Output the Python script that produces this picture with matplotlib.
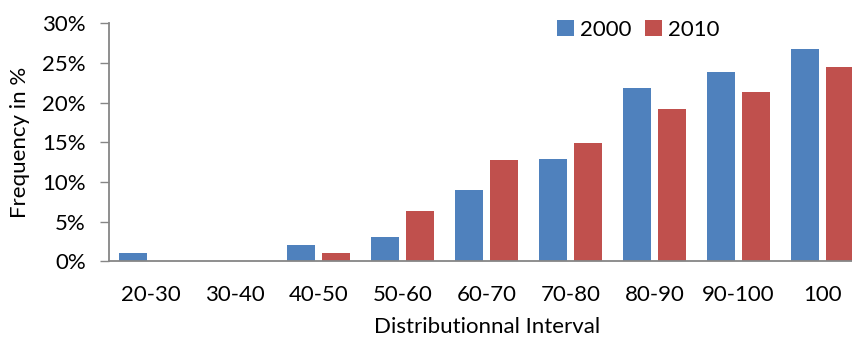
import matplotlib
matplotlib.use("Agg")
import matplotlib.pyplot as plt
import numpy as np

categories = ["20-30", "30-40", "40-50", "50-60", "60-70", "70-80", "80-90", "90-100", "100"]
series_2000 = [1.0, 0.0, 2.0, 3.0, 9.0, 12.9, 21.8, 23.8, 26.8]
series_2010 = [0.0, 0.0, 1.0, 6.4, 12.8, 14.9, 19.2, 21.3, 24.5]
y_ticks = [0, 5, 10, 15, 20, 25, 30]

blue = "#4F81BD"
red = "#C0504D"
grey = "#868686"

plt.rcParams["font.family"] = ["Lato", "DejaVu Sans"]
fs = 16

fig = plt.figure(figsize=(8.53, 3.42), dpi=100)
ax = fig.add_axes([0.1274, 0.236, 1.0135 - 0.1274, 0.932 - 0.236])

x = np.arange(len(categories))
w = 0.333
off = 0.208
ax.bar(x - off, series_2000, width=w, color=blue, label="2000")
ax.bar(x + off, series_2010, width=w, color=red, label="2010")

ax.set_xlim(-0.5, len(categories) - 0.5)
ax.set_ylim(0, 30)
ax.set_yticks(y_ticks)
ax.set_yticklabels([f"{v}%" for v in y_ticks])
ax.set_xticks(x)
ax.set_xticklabels(categories)

for s in ["top", "right"]:
    ax.spines[s].set_visible(False)
ax.spines["left"].set_color(grey)
ax.spines["bottom"].set_color(grey)
ax.spines["left"].set_linewidth(1.3)
ax.spines["bottom"].set_linewidth(1.3)

ax.tick_params(axis="y", length=6.3, width=1.0, color=grey, pad=10, labelsize=fs)
ax.tick_params(axis="x", length=0, pad=17, labelsize=fs)

ax.set_xlabel("Distributionnal Interval", fontsize=fs, labelpad=9)
ax.set_ylabel("Frequency in %", fontsize=fs, labelpad=9)

fig.legend(loc="center left", bbox_to_anchor=(557 / 853, 1 - 30 / 342), ncol=2,
           frameon=False, fontsize=fs, handlelength=0.75, handleheight=0.75,
           handletextpad=0.3, columnspacing=0.6, borderpad=0, borderaxespad=0)

fig.savefig("out.png", dpi=100)
